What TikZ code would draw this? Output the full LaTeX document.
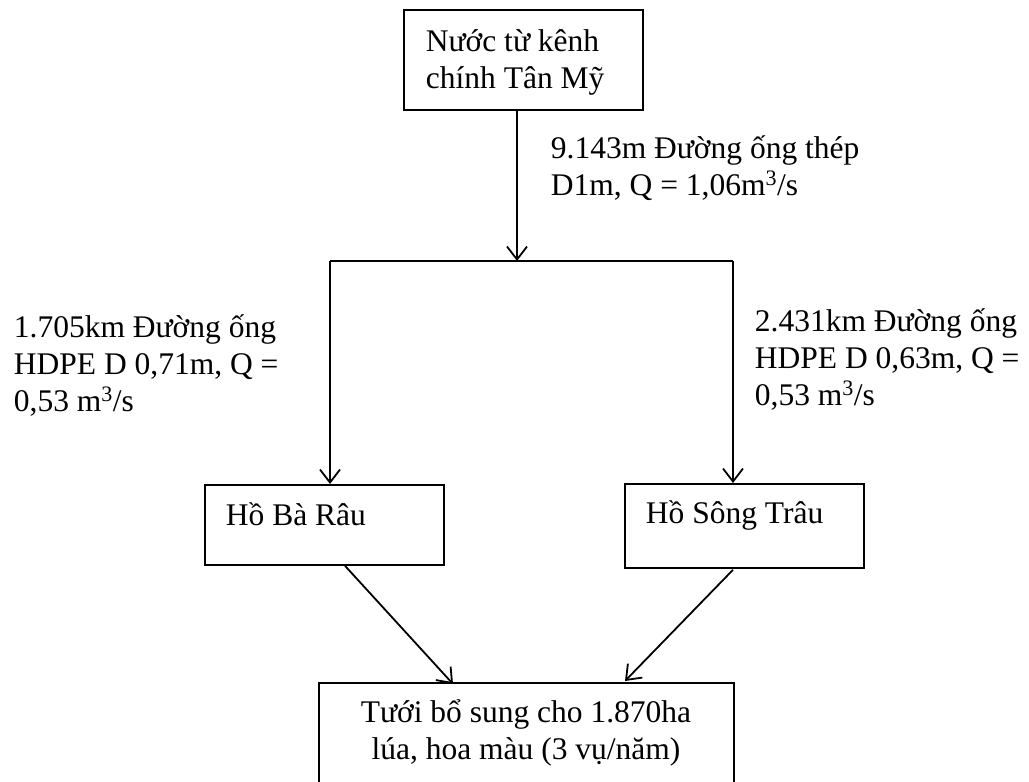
\documentclass[tikz,border=0pt]{standalone}
\usepackage{fontspec}
\setmainfont{Liberation Serif}
\usetikzlibrary{arrows.meta,calc}
\begin{document}
\begin{tikzpicture}[x=1pt,y=-1pt, line width=1.8pt,
  box/.style={draw, rectangle, inner sep=0pt, anchor=north west},
  txt/.style={inner sep=0pt, anchor=base west, align=left, font=\fontsize{31.5}{37}\selectfont},
  arr/.style={-{Straight Barb[length=13pt,width=20pt]}}]
\clip (0,0) rectangle (1029,782);
% boxes
\node[box, minimum width=239pt, minimum height=100pt] (src) at (403,9) {};
\node[box, minimum width=239pt, minimum height=80pt] (hbr) at (204,484) {};
\node[box, minimum width=239pt, minimum height=84pt] (hst) at (624,483) {};
\node[box, minimum width=415pt, minimum height=130pt] (out) at (318,682) {};
% box texts (base anchor = baseline of last line)
\node[txt] (srct) at (425,88) {Nước từ kênh\\chính Tân Mỹ};
\node[txt] (hbrt) at (225,525) {Hồ Bà Râu};
\node[txt] (hstt) at (645,523) {Hồ Sông Trâu};
\node[txt, anchor=base, align=center] (outt) at (526,759) {Tưới bổ sung cho 1.870ha\\lúa, hoa màu (3 vụ/năm)};
% labels
\node[txt] (l1) at (550,195) {9.143m Đường ống thép\\D1m, Q = 1,06m\textsuperscript{3}/s};
\node[txt] (l2) at (13,411) {1.705km Đường ống\\HDPE D 0,71m, Q =\\0,53 m\textsuperscript{3}/s};
\node[txt] (l3) at (754,405) {2.431km Đường ống\\HDPE D 0,63m, Q =\\0,53 m\textsuperscript{3}/s};
% connectors
\coordinate (j) at (517,261);
\coordinate (jl) at (330,261);
\coordinate (jr) at (733,261);
\draw[arr] (src.south -| j) -- (j);
\draw (jl) -- (jr);
\draw[arr] (jl) -- (jl |- hbr.north);
\draw[arr] (jr) -- (jr |- hst.north);
\draw[arr] ($(hbr.south west)+(141,0)$) -- ($(out.north west)+(135,2)$);
\draw[arr] ($(hst.south west)+(109,1)$) -- ($(out.north west)+(307,-1)$);
\end{tikzpicture}
\end{document}
